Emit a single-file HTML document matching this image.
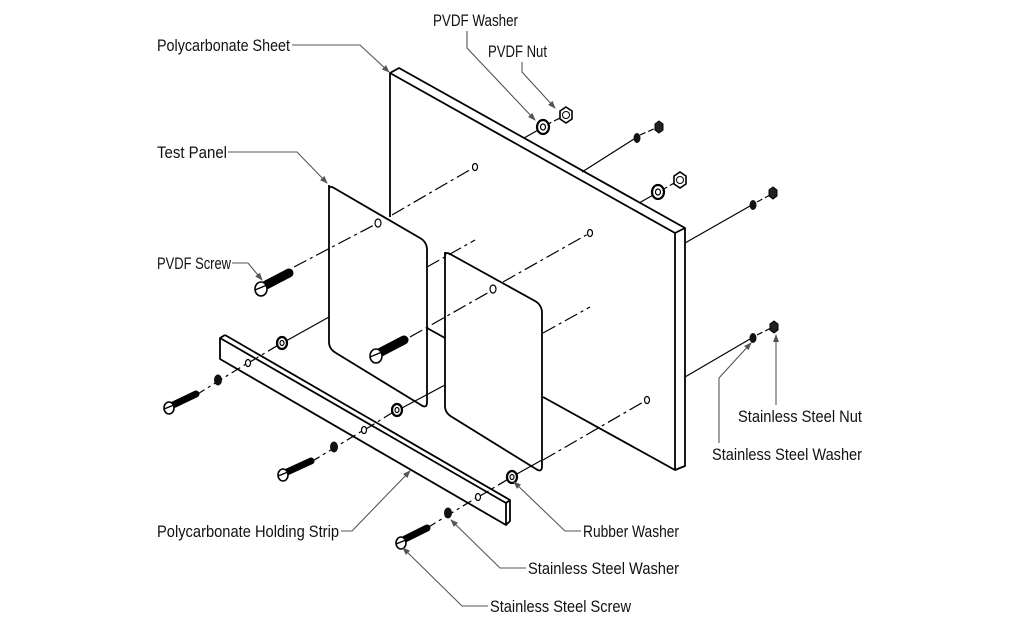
<!DOCTYPE html>
<html><head><meta charset="utf-8"><style>
html,body{margin:0;padding:0;background:#fff;}
svg{display:block;}
text{font-family:"Liberation Sans Narrow","Liberation Sans",sans-serif;font-size:17px;fill:#111;}
</style></head><body>
<svg width="1014" height="627" viewBox="0 0 1014 627" xmlns="http://www.w3.org/2000/svg">
<defs>
<marker id="ar" markerWidth="8" markerHeight="6" refX="7" refY="3" orient="auto" markerUnits="userSpaceOnUse"><path d="M0,0 L8,3 L0,6 z" fill="#555"/></marker>
</defs>
<g fill="none" stroke="#000" stroke-width="1.8" stroke-linejoin="round">
<path d="M390,217 L390,73 L399,68 L685,228 L685,466 L675,470 L675,233 L390,73"/>
<path d="M675,233 L685,228"/>
<path d="M543,397 L675,470"/>
<path d="M427,328 L445,338"/>
<path d="M329,185 L329,342 Q329,349 336,353 L421,405 Q427,409 427,402 L427,250 Q427,242 420,238 L334,188 Q329,185 329,190"/>
<path d="M445,252 L445,406 Q445,413 452,417 L536,469 Q542,473 542,466 L542,313 Q542,305 535,301 L450,254 Q445,251 445,257"/>
<path d="M225,335 L510,500 L510,521 L506,525 L220,359 L220,338 L225,335 M220,338 L506,503 L510,500 M506,503 L506,525"/>
</g>
<g fill="none" stroke="#000" stroke-width="1.2">
<ellipse cx="475" cy="167" rx="2.5" ry="3.5"/>
<ellipse cx="590" cy="233" rx="2.5" ry="3.5"/>
<ellipse cx="647" cy="400" rx="2.5" ry="3.5"/>
<ellipse cx="378" cy="223" rx="3" ry="4"/>
<ellipse cx="493" cy="289" rx="3" ry="4"/>
<ellipse cx="248" cy="363" rx="2.5" ry="3.5"/>
<ellipse cx="364" cy="430" rx="2.5" ry="3.5"/>
<ellipse cx="478" cy="497" rx="2.5" ry="3.5"/>
<path stroke-dasharray="14,4,3,4" d="M294,267 L376,224 M392,215 L473,168"/>
<path stroke-dasharray="14,4,3,4" d="M427,267 L475,240"/>
<path stroke-dasharray="14,4,3,4" d="M410,337 L491,291 M503,282 L588,234"/>
<path stroke-dasharray="14,4,3,4" d="M543,333 L590,307"/>
<path stroke-dasharray="14,4,3,4" d="M543,460 L645,401"/>
<path stroke-dasharray="10,4,3,4" d="M196,395 L246,364 M250,362 L280,344"/>
<path d="M286,341 L329,317"/>
<path stroke-dasharray="10,4,3,4" d="M311,462 L362,431 M366,429 L395,411"/>
<path d="M400,409 L445,385"/>
<path stroke-dasharray="10,4,3,4" d="M427,528 L476,498 M480,496 L510,478"/>
<path d="M515,475 L542,460"/>
<path d="M524,138 L540,129"/>
<path stroke-dasharray="6,3" d="M546,125 L562,117"/>
<path d="M582,172 L634,139"/>
<path stroke-dasharray="6,3" d="M640,135 L656,128"/>
<path d="M639,203 L655,194"/>
<path stroke-dasharray="6,3" d="M662,190 L676,182"/>
<path d="M685,243 L750,206"/>
<path stroke-dasharray="6,3" d="M757,202 L770,195"/>
<path d="M685,377 L750,339"/>
<path stroke-dasharray="6,3" d="M757,335 L771,328"/>
</g>
<g stroke="#000" stroke-linecap="round">
<line x1="266" y1="285" x2="289" y2="273" stroke-width="9"/>
<line x1="381" y1="352" x2="404" y2="340" stroke-width="9"/>
<line x1="173" y1="405" x2="196" y2="394" stroke-width="7"/>
<line x1="287" y1="472" x2="311" y2="461" stroke-width="7"/>
<line x1="405" y1="539" x2="427" y2="528" stroke-width="7"/>
</g>
<g fill="#fff" stroke="#000" stroke-width="1.6">
<ellipse cx="261" cy="289" rx="6" ry="7"/>
<ellipse cx="376" cy="356" rx="6" ry="7"/>
<ellipse cx="169" cy="408" rx="5" ry="6"/>
<ellipse cx="283" cy="475" rx="5" ry="6"/>
<ellipse cx="401" cy="543" rx="5" ry="6"/>
</g>
<g stroke="#000" stroke-width="1.4">
<path d="M255,290 L267,285 M370,357 L382,352 M164,409 L174,405 M278,476 L288,472 M396,544 L406,540"/>
</g>
<g stroke="#000" stroke-width="2.2" fill="#fff">
<ellipse cx="543" cy="127" rx="6" ry="7"/>
<ellipse cx="658" cy="192" rx="6" ry="7"/>
<ellipse cx="282" cy="343" rx="5" ry="6"/>
<ellipse cx="397" cy="410" rx="5" ry="6"/>
<ellipse cx="512" cy="477" rx="5" ry="6"/>
</g>
<g fill="none" stroke="#000" stroke-width="1.2">
<ellipse cx="543" cy="127" rx="2.5" ry="3"/>
<ellipse cx="658" cy="192" rx="2.5" ry="3"/>
<ellipse cx="282" cy="343" rx="2" ry="2.5"/>
<ellipse cx="397" cy="410" rx="2" ry="2.5"/>
<ellipse cx="512" cy="477" rx="2" ry="2.5"/>
</g>
<g fill="#111">
<ellipse cx="637" cy="138" rx="3.5" ry="5"/>
<ellipse cx="753" cy="205" rx="3.5" ry="5"/>
<ellipse cx="753" cy="338" rx="3.5" ry="5"/>
<ellipse cx="218" cy="380" rx="4" ry="5.5"/>
<ellipse cx="334" cy="447" rx="4" ry="5.5"/>
<ellipse cx="448" cy="513" rx="4" ry="5.5"/>
</g>
<g stroke="#000" stroke-width="1.6" fill="#fff">
<polygon points="566,107 572,111 572,119 566,123 560,119 560,111"/>
<polygon points="680,172 686,176 686,184 680,188 674,184 674,176"/>
</g>
<g fill="none" stroke="#000" stroke-width="1"><circle cx="566" cy="115" r="3.5"/><circle cx="680" cy="180" r="3.5"/></g>
<g fill="#222" stroke="#000">
<polygon points="659,121 663,124 663,130 659,133 655,130 655,124"/>
<polygon points="773,187 777,190 777,196 773,199 769,196 769,190"/>
<polygon points="774,321 778,324 778,330 774,333 770,330 770,324"/>
</g>
<g fill="none" stroke="#555" stroke-width="1.1" marker-end="url(#ar)">
<path d="M292,45 L360,45 L389,72"/>
<path d="M467,31 L467,48 L535,120"/>
<path d="M522,62 L522,72 L555,108"/>
<path d="M228,152 L297,152 L327,183"/>
<path d="M232,263 L248,263 L262,280"/>
<path d="M341,531 L352,531 L410,471"/>
<path d="M581,531 L565,531 L514,482"/>
<path d="M526,568 L500,568 L451,520"/>
<path d="M488,606 L462,606 L403,548"/>
<path d="M776,405 L776,335"/>
<path d="M719,443 L719,378 L751,343"/>
</g>
<text x="157" y="51" textLength="133" lengthAdjust="spacingAndGlyphs">Polycarbonate Sheet</text>
<text x="433" y="26" textLength="85" lengthAdjust="spacingAndGlyphs">PVDF Washer</text>
<text x="488" y="57" textLength="59" lengthAdjust="spacingAndGlyphs">PVDF Nut</text>
<text x="157" y="158" textLength="70" lengthAdjust="spacingAndGlyphs">Test Panel</text>
<text x="157" y="269" textLength="74" lengthAdjust="spacingAndGlyphs">PVDF Screw</text>
<text x="157" y="537" textLength="182" lengthAdjust="spacingAndGlyphs">Polycarbonate Holding Strip</text>
<text x="583" y="537" textLength="96" lengthAdjust="spacingAndGlyphs">Rubber Washer</text>
<text x="528" y="574" textLength="151" lengthAdjust="spacingAndGlyphs">Stainless Steel Washer</text>
<text x="490" y="612" textLength="141" lengthAdjust="spacingAndGlyphs">Stainless Steel Screw</text>
<text x="738" y="422" textLength="124" lengthAdjust="spacingAndGlyphs">Stainless Steel Nut</text>
<text x="712" y="460" textLength="150" lengthAdjust="spacingAndGlyphs">Stainless Steel Washer</text>
</svg>
</body></html>
